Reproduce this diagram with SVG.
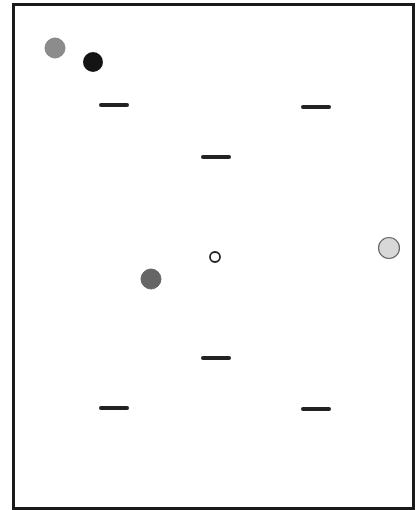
<svg xmlns="http://www.w3.org/2000/svg" width="416" height="510" viewBox="0 0 416 510">
<style>
.dash{stroke:#222;stroke-width:4;stroke-linecap:round}
.frame{fill:#fff;stroke:#1a1a1a;stroke-width:3}
</style>
<rect x="0" y="0" width="416" height="510" fill="#fff"/>
<rect class="frame" x="13.5" y="4.5" width="400" height="504"/>
<g id="c1"><circle cx="55" cy="48" r="10" fill="#8c8c8c" stroke="#777" stroke-width="0.8"/></g>
<g id="c2"><circle cx="93" cy="62" r="10" fill="#141414"/></g>
<g id="d1"><line class="dash" x1="101" y1="105" x2="127" y2="105"/></g>
<g id="d2"><line class="dash" x1="303" y1="107" x2="329" y2="107"/></g>
<g id="d3"><line class="dash" x1="203" y1="157" x2="229" y2="157"/></g>
<g id="c3"><circle cx="215" cy="257" r="5" fill="#fff" stroke="#222" stroke-width="1.8"/></g>
<g id="c4"><circle cx="151" cy="279" r="10" fill="#666" stroke="#555" stroke-width="0.8"/></g>
<g id="c5"><circle cx="389" cy="248" r="10.5" fill="#d8d8d8" stroke="#666" stroke-width="1.2"/></g>
<g id="d4"><line class="dash" x1="203" y1="358" x2="229" y2="358"/></g>
<g id="d5"><line class="dash" x1="101" y1="408" x2="127" y2="408"/></g>
<g id="d6"><line class="dash" x1="303" y1="409" x2="329" y2="409"/></g>
<g id="connectors"></g>
</svg>
